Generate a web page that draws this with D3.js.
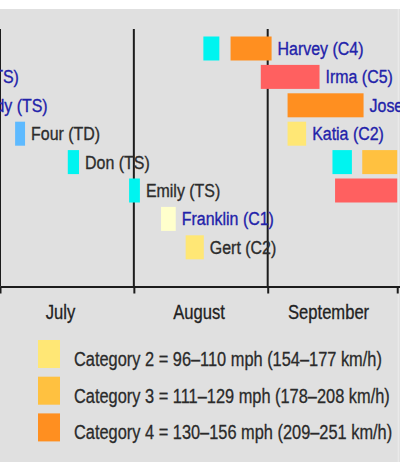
<!DOCTYPE html>
<html>
<head>
<meta charset="utf-8">
<script src="https://cdn.jsdelivr.net/npm/d3@7"></script>
<style>
  html, body { margin: 0; padding: 0; background: #ffffff; }
  svg { display: block; }
  text { font-family: "Liberation Sans", Arial, sans-serif; }
</style>
</head>
<body>
<svg id="chart" width="400" height="472"></svg>
<script>
// ---- data (days counted from 1 July 2017) ----
const categories = ["TD", "TS", "C1", "C2", "C3", "C4", "C5"];
const categoryColors = ["#5ebaff", "#00f4f0", "#ffffcc", "#ffe775", "#ffc140", "#ff8f20", "#ff6060"];

const segStorm = ["Bret", "Cindy", "Four", "Don", "Emily", "Franklin", "Gert", "Harvey", "Harvey", "Irma", "Jose", "Katia", "Lee", "Lee", "Maria"];
const segStart = [-13, -11, 3.5, 15.7, 29.9, 37.3, 43, 47.1, 53.4, 60.4, 66.6, 66.6, 77, 83.9, 77.6];
const segEnd   = [-12, -8, 5.8, 18.3, 32.4, 40.7, 47.2, 50.8, 62.9, 74, 84.2, 70.9, 81.5, 92, 92];
const segCat   = ["TS", "TS", "TD", "TS", "TS", "C1", "C2", "TS", "C4", "C5", "C4", "C2", "TS", "C3", "C5"];

const stormNames  = ["Harvey", "Bret", "Irma", "Cindy", "Jose", "Four", "Katia", "Don", "Lee", "Emily", "Maria", "Franklin", "Gert"];
const stormRow    = [0, 1, 1, 2, 2, 3, 3, 4, 4, 5, 5, 6, 7];
const stormLabels = ["Harvey (C4)", "Bret (TS)", "Irma (C5)", "Cindy (TS)", "Jose (C4)", "Four (TD)", "Katia (C2)", "Don (TS)", "Lee (C3)", "Emily (TS)", "Maria (C5)", "Franklin (C1)", "Gert (C2)"];
const stormLinked = [true, true, true, true, true, false, true, false, true, false, true, true, false];

const monthNames = ["July", "August", "September"];
const monthStart = [0, 31, 62];
const monthLabelDay = [14, 46.1, 76.1];
const tickDays = [0, 31, 62, 92];

const legendCats = ["C2", "C3", "C4"];
const legendTexts = [
  "Category 2 = 96\u2013110 mph (154\u2013177 km/h)",
  "Category 3 = 111\u2013129 mph (178\u2013208 km/h)",
  "Category 4 = 130\u2013156 mph (209\u2013251 km/h)"
];

// ---- layout ----
const W = 400, H = 472;
const svg = d3.select("#chart");
const color = d3.scaleOrdinal().domain(categories).range(categoryColors);
const x = d3.scaleLinear().domain([0, 62]).range([0, 267.7]);
const rowsDomain = d3.range(8);
const y = d3.scalePoint().domain(rowsDomain).range([48.5, 247.3]);
const barH = 24;
const axisY = 286.5, gridTop = 29;

// panel background
svg.append("rect").attr("x", 0).attr("y", 9).attr("width", W).attr("height", 453).attr("fill", "#e0e0e0");

const plot = svg.append("g");

// vertical grid lines at month starts
plot.selectAll("line.grid").data(monthStart).join("line")
  .attr("class", "grid")
  .attr("x1", d => x(d)).attr("x2", d => x(d))
  .attr("y1", gridTop).attr("y2", axisY)
  .attr("stroke", "#1c1c1c").attr("stroke-width", 2);

// faint line at October
plot.append("line")
  .attr("x1", x(92) + 1).attr("x2", x(92) + 1)
  .attr("y1", 9).attr("y2", 462)
  .attr("stroke", "#ececec").attr("stroke-width", 1);

// bars
const segs = segStorm.map((s, i) => ({
  storm: s, start: segStart[i], end: segEnd[i], cat: segCat[i],
  row: stormRow[stormNames.indexOf(s)]
}));
plot.selectAll("rect.bar").data(segs).join("rect")
  .attr("class", "bar")
  .attr("x", d => x(d.start))
  .attr("y", d => y(d.row) - barH / 2)
  .attr("width", d => x(d.end) - x(d.start))
  .attr("height", barH)
  .attr("fill", d => color(d.cat));

// storm labels
const labels = stormNames.map((s, i) => ({
  text: stormLabels[i], row: stormRow[i], linked: stormLinked[i],
  end: d3.max(segs.filter(g => g.storm === s), g => g.end)
}));
plot.selectAll("g.lbl").data(labels).join("g")
  .attr("class", "lbl")
  .attr("transform", d => `translate(${x(d.end) + 6},${y(d.row) + 6.5}) scale(0.84,1)`)
  .append("text")
  .attr("font-size", 19)
  .attr("fill", d => d.linked ? "#2222aa" : "#2c2c2c")
  .attr("stroke", d => d.linked ? "#2222aa" : "#2c2c2c")
  .attr("stroke-width", 0.35)
  .text(d => d.text);

// axis
const xAxisScale = x.copy().domain([0, x.invert(W)]).range([0, W]);
const axis = d3.axisBottom(xAxisScale).tickValues(tickDays).tickSize(7).tickSizeOuter(0).tickFormat("");
const ax = svg.append("g").attr("transform", `translate(0,${axisY})`).call(axis);
ax.select(".domain").attr("stroke", "#1c1c1c").attr("stroke-width", 2);
ax.selectAll(".tick line").attr("stroke", "#1c1c1c").attr("stroke-width", 2);

// month labels
svg.selectAll("g.month").data(monthNames).join("g")
  .attr("class", "month")
  .attr("transform", (d, i) => `translate(${x(monthLabelDay[i])},318.5) scale(0.83,1)`)
  .append("text")
  .attr("text-anchor", "middle")
  .attr("font-size", 20)
  .attr("fill", "#222")
  .attr("stroke", "#222")
  .attr("stroke-width", 0.3)
  .text(d => d);

// legend
const legY = d3.scalePoint().domain(legendCats).range([340, 413.4]);
const leg = svg.selectAll("g.leg").data(legendCats).join("g").attr("class", "leg");
leg.append("rect")
  .attr("x", 38).attr("y", d => legY(d))
  .attr("width", 22).attr("height", 28)
  .attr("fill", d => color(d));
leg.append("g")
  .attr("transform", d => `translate(74,${legY(d) + 26}) scale(0.78,1)`)
  .append("text")
  .attr("font-size", 21)
  .attr("fill", "#2a2a2a")
  .attr("stroke", "#2a2a2a")
  .attr("stroke-width", 0.3)
  .text((d, i) => legendTexts[i]);
</script>
</body>
</html>
